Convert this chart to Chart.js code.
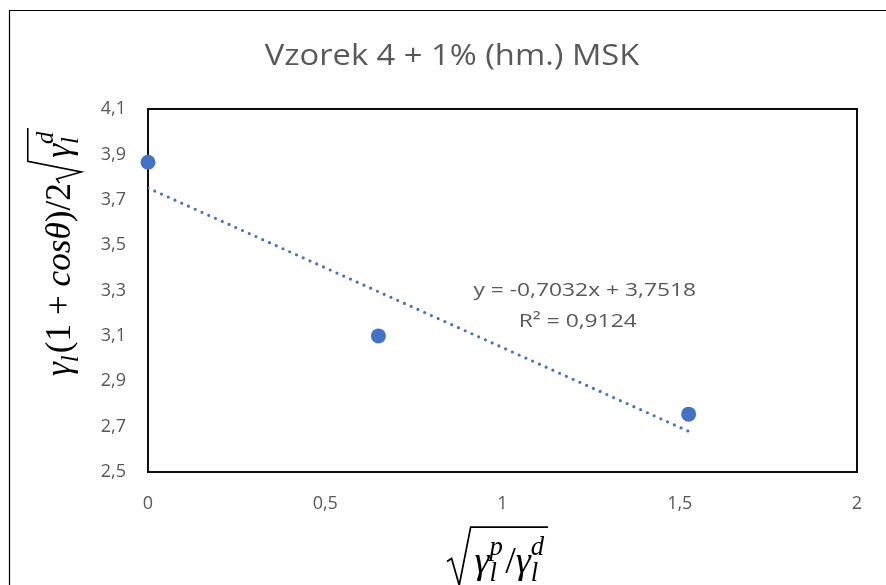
<!DOCTYPE html>
<html>
<head>
<meta charset="utf-8">
<title>Vzorek 4 + 1% (hm.) MSK</title>
<script src="https://cdn.jsdelivr.net/npm/chart.js@4.4.1/dist/chart.umd.min.js"></script>
<style>
  html, body { margin: 0; padding: 0; background: #fff; }
  #wrap { position: relative; width: 886px; height: 585px; }
</style>
</head>
<body>
<div id="wrap"><canvas id="myChart"></canvas></div>
<script>
// values
const titleText = 'Vzorek 4 + 1% (hm.) MSK'
const xValues = [0, 0.65, 1.525]
const yValues = [3.865, 3.10, 2.755]
const xTicks = [0, 0.5, 1, 1.5, 2]
const yTicks = [2.5, 2.7, 2.9, 3.1, 3.3, 3.5, 3.7, 3.9, 4.1]
// linear trendline as printed on the chart
const trendSlope = -0.7032
const trendIntercept = 3.7518
const trendLabel = ['y = -0,7032x + 3,7518', 'R² = 0,9124']

// axis titles as small math runs
const yTitle = [
  { t: 'γ', i: true }, { sub: 'l' }, { t: '(1 + ' }, { t: 'cosθ', i: true }, { t: ')/2' },
  { root: [{ t: 'γ', i: true }, { sub: 'l', sup: 'd' }] }
]
const xTitle = [
  { root: [{ t: 'γ', i: true }, { sub: 'l', sup: 'p' }, { t: '/' }, { t: 'γ', i: true }, { sub: 'l', sup: 'd' }] }
]

const blue = '#4472C4'
const grey = '#595959'
const sansFont = '"Open Sans", "Noto Sans", sans-serif'
const mathFont = '"Liberation Serif", serif'

const fmt = v => String(v).replace('.', ',')

function layMath(ctx, runs, s, x, y, draw) {
  const x0 = x
  runs.forEach(r => {
    if (r.root) {
      const inner = layMath(ctx, r.root, s, 0, 0, false)
      if (draw) {
        ctx.lineWidth = Math.max(1.2, s * 0.045)
        ctx.beginPath()
        ctx.moveTo(x, y - 0.3 * s)
        ctx.lineTo(x + 0.12 * s, y - 0.38 * s)
        ctx.lineTo(x + 0.32 * s, y + 0.32 * s)
        ctx.lineTo(x + 0.62 * s, y - 1.2 * s)
        ctx.lineTo(x + 0.72 * s + inner + 0.04 * s, y - 1.2 * s)
        ctx.stroke()
        layMath(ctx, r.root, s, x + 0.72 * s, y, true)
      }
      x += 0.76 * s + inner
    } else if (r.sub || r.sup) {
      ctx.font = 'italic ' + (0.7 * s) + 'px ' + mathFont
      let w = 0
      if (r.sub) {
        w = Math.max(w, ctx.measureText(r.sub).width)
        if (draw) ctx.fillText(r.sub, x, y + 0.22 * s)
      }
      if (r.sup) {
        w = Math.max(w, ctx.measureText(r.sup).width)
        if (draw) ctx.fillText(r.sup, x, y - 0.48 * s)
      }
      x += w + 0.06 * s
    } else {
      ctx.font = (r.i ? 'italic ' : '') + s + 'px ' + mathFont
      if (draw) ctx.fillText(r.t, x, y)
      x += ctx.measureText(r.t).width
    }
  })
  return x - x0
}

// pick a size so the formula spans the wanted length
function drawMath(ctx, runs, span, x, y, angle) {
  const natural = layMath(ctx, runs, 24, 0, 0, false)
  const s = 24 * span / natural
  ctx.save()
  ctx.translate(x, y)
  ctx.rotate(angle)
  ctx.fillStyle = '#000'
  ctx.strokeStyle = '#000'
  ctx.textBaseline = 'alphabetic'
  ctx.textAlign = 'left'
  layMath(ctx, runs, s, 0, 0, true)
  ctx.restore()
}

// the picture's text runs a bit wider than Open Sans, so stretch it sideways
function wideText(ctx, text, x, y, size, stretch) {
  ctx.save()
  ctx.translate(x, y)
  ctx.scale(stretch, 1)
  ctx.font = size + 'px ' + sansFont
  ctx.fillText(text, 0, 0)
  ctx.restore()
}

const decor = {
  id: 'decor',
  beforeDatasetsDraw(chart) {
    const { ctx, chartArea: a } = chart
    ctx.save()
    ctx.strokeStyle = '#0d0d0d'
    ctx.lineWidth = 2
    ctx.strokeRect(a.left, a.top, a.right - a.left, a.bottom - a.top)
    ctx.restore()
  },
  afterDraw(chart) {
    const { ctx, chartArea: a } = chart
    ctx.save()
    // outer frame of the chart object, cut off at right and bottom
    ctx.strokeStyle = '#000'
    ctx.lineWidth = 1.2
    ctx.beginPath()
    ctx.moveTo(9.5, chart.height)
    ctx.lineTo(9.5, 10.5)
    ctx.lineTo(chart.width, 10.5)
    ctx.stroke()

    ctx.fillStyle = grey
    ctx.textAlign = 'center'
    ctx.textBaseline = 'middle'
    wideText(ctx, titleText, 452, 56, 30, 1.09)

    const lx = a.left + (a.right - a.left) * 0.616
    const ly = a.top + (a.bottom - a.top) * 0.499
    wideText(ctx, trendLabel[0], lx, ly, 19, 1.2)
    wideText(ctx, trendLabel[1], lx - 7, ly + 31, 19, 1.2)
    ctx.restore()

    drawMath(ctx, yTitle, 248, 70, 376, -Math.PI / 2)
    drawMath(ctx, xTitle, 101, 447, 573, 0)
  }
}

const points = xValues.map((x, i) => ({ x: x, y: yValues[i] }))
const xEnd = Math.max(...xValues)
const trend = [
  { x: 0, y: trendIntercept },
  { x: xEnd, y: trendIntercept + trendSlope * xEnd }
]

new Chart(document.getElementById('myChart'), {
  type: 'scatter',
  data: {
    datasets: [{
      data: points,
      backgroundColor: blue,
      borderColor: blue,
      pointRadius: 7.5,
      pointBorderWidth: 0,
      clip: false,
      order: 1
    }, {
      type: 'line',
      data: trend,
      borderColor: blue,
      borderWidth: 3.2,
      borderDash: [0, 7.4],
      borderCapStyle: 'round',
      pointRadius: 0,
      fill: false,
      order: 2
    }]
  },
  options: {
    responsive: true,
    maintainAspectRatio: false,
    animation: false,
    layout: { padding: { top: 109, right: 29, left: 0, bottom: 0 } },
    plugins: {
      legend: { display: false },
      tooltip: { enabled: false },
      title: { display: false }
    },
    scales: {
      x: {
        type: 'linear',
        min: 0,
        max: 2,
        afterBuildTicks: scale => { scale.ticks = xTicks.map(v => ({ value: v })) },
        afterFit: scale => { scale.height = 113 },
        grid: { display: false, drawTicks: false },
        border: { display: false },
        ticks: {
          padding: 21,
          color: grey,
          font: { family: sansFont, size: 18 },
          callback: v => fmt(v)
        }
      },
      y: {
        type: 'linear',
        min: 2.5,
        max: 4.1,
        afterBuildTicks: scale => { scale.ticks = yTicks.map(v => ({ value: v })) },
        afterFit: scale => { scale.width = 148 },
        grid: { display: false, drawTicks: false },
        border: { display: false },
        ticks: {
          padding: 22,
          color: grey,
          font: { family: sansFont, size: 18 },
          callback: v => fmt(v.toFixed(1))
        }
      }
    }
  },
  plugins: [decor]
})
</script>
</body>
</html>
